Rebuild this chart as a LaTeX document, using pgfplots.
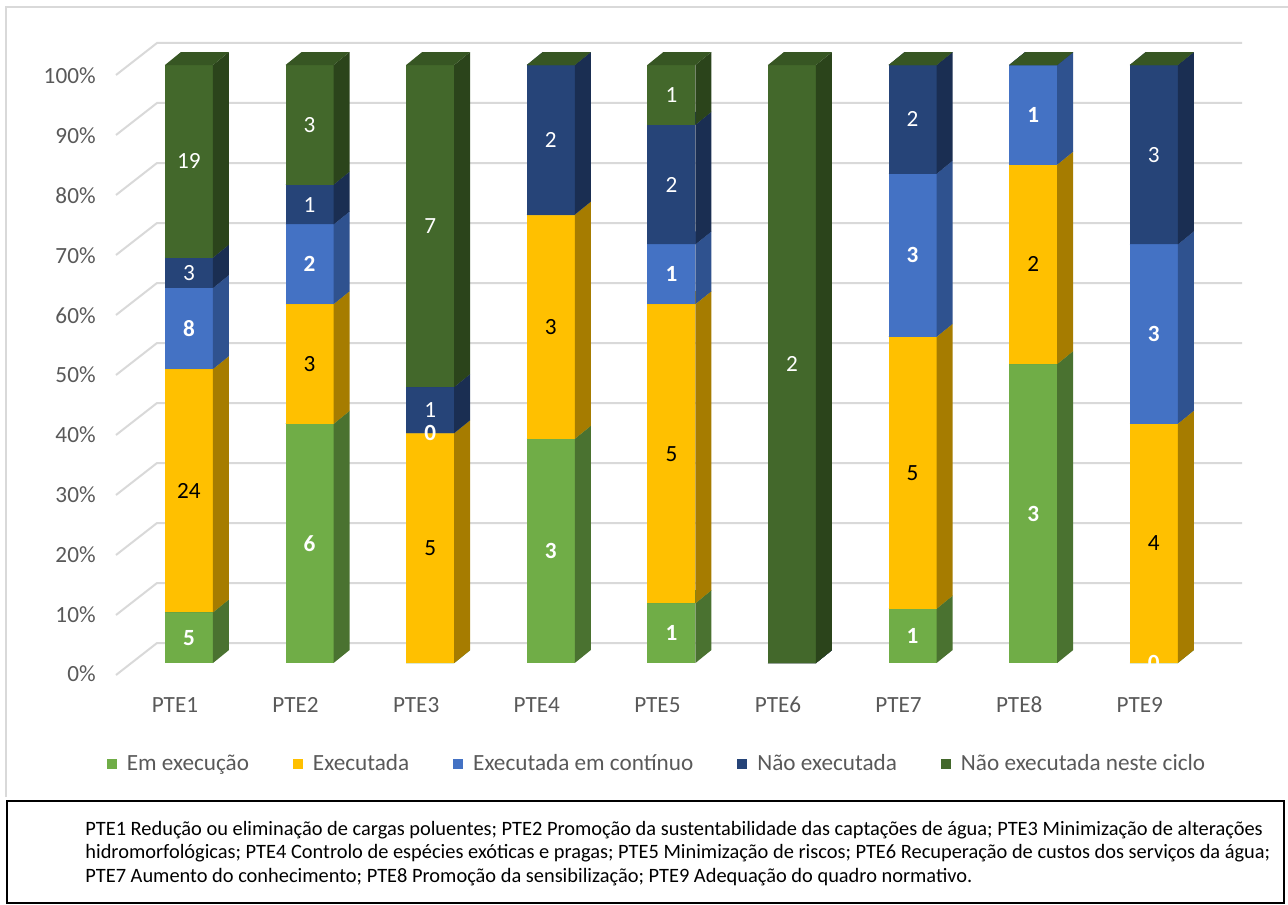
\documentclass[border=0pt]{standalone}
\usepackage{pgfplots}
\usepackage{pgfplotstable}
\pgfplotsset{compat=1.18}
\usepackage{fontspec}
\setmainfont{Carlito}

\definecolor{cEm}{HTML}{70AD47}\definecolor{sEm}{HTML}{4A7230}\definecolor{tEm}{HTML}{5E9239}
\definecolor{cEx}{HTML}{FFC000}\definecolor{sEx}{HTML}{A67C00}\definecolor{tEx}{HTML}{D9A300}
\definecolor{cCo}{HTML}{4472C4}\definecolor{sCo}{HTML}{2F528F}\definecolor{tCo}{HTML}{3A62A8}
\definecolor{cNe}{HTML}{264478}\definecolor{sNe}{HTML}{1A2E52}\definecolor{tNe}{HTML}{203A66}
\definecolor{cNc}{HTML}{43682B}\definecolor{sNc}{HTML}{2B441B}\definecolor{tNc}{HTML}{375623}
\definecolor{txt}{HTML}{595959}
\definecolor{gridc}{HTML}{D9D9D9}

% number of measures per PTE; "-" means no data label
\pgfplotstableread{
pte  em  ex  co  ne  nc
PTE1 5   24  8   3   19
PTE2 6   3   2   1   3
PTE3 -   5   0   1   7
PTE4 3   3   -   2   -
PTE5 1   5   1   2   1
PTE6 -   -   -   -   2
PTE7 1   5   3   2   -
PTE8 3   2   1   -   -
PTE9 0   4   3   3   -
}\counts

\def\dash{-}
\newcommand\getcount[2]{%
  \pgfplotstablegetelem{#1}{#2}\of\counts
  \edef\cstr{\pgfplotsretval}%
  \ifx\cstr\dash\def\cval{0}\def\cshow{0}\else\let\cval\cstr\def\cshow{1}\fi}
\newcommand\pickseries[1]{%
  \ifcase#1\or
    \def\col{em}\def\fc{cEm}\def\sc{sEm}\def\tc{tEm}\def\ls{lblb}\or
    \def\col{ex}\def\fc{cEx}\def\sc{sEx}\def\tc{tEx}\def\ls{lblk}\or
    \def\col{co}\def\fc{cCo}\def\sc{sCo}\def\tc{tCo}\def\ls{lblb}\or
    \def\col{ne}\def\fc{cNe}\def\sc{sNe}\def\tc{tNe}\def\ls{lblw}\or
    \def\col{nc}\def\fc{cNc}\def\sc{sNc}\def\tc{tNc}\def\ls{lblw}\fi}
\newcommand\gettotal[1]{%
  \def\tot{0}%
  \pgfplotsforeachungrouped \cc in {em,ex,co,ne,nc}{%
    \getcount{#1}{\cc}\pgfmathsetmacro\tot{\tot+\cval}}}

\def\hw{0.199}\def\dx{0.1327}\def\dy{2.17}
\newcommand\lblfont{\fontsize{11.6}{14}\selectfont}
\tikzset{
  lbl/.style={font=\lblfont, inner sep=0pt},
  lblb/.style={lbl, font=\lblfont\bfseries, text=white},
  lblk/.style={lbl, text=black},
  lblw/.style={lbl, text=white},
}

\begin{document}
\begin{tikzpicture}
\begin{scope}[x=0.5pt, y=-0.5pt]
  \useasboundingbox (0,0) rectangle (1288,904);
  \draw[gridc, line width=1pt] (6,797) -- (6,7) -- (1292,7);
  \foreach \p in {0,...,10}
    \draw[gridc, line width=1pt] (116,{675-60*\p}) -- (157,{643-60*\p}) -- (1242,{643-60*\p});
  \draw[black, line width=1.25pt] (7,801) rectangle (1284,903);
  \begin{scope}[every node/.style={anchor=base west, inner sep=0pt, font=\fontsize{10.2}{12}\selectfont}]
    \node at (85,835) {PTE1 Redução ou eliminação de cargas poluentes; PTE2 Promoção da sustentabilidade das captações de água; PTE3 Minimização de alterações};
    \node at (85,858.5) {hidromorfológicas; PTE4 Controlo de espécies exóticas e pragas; PTE5 Minimização de riscos; PTE6 Recuperação de custos dos serviços da água;};
    \node at (85,882) {PTE7 Aumento do conhecimento; PTE8 Promoção da sensibilização; PTE9 Adequação do quadro normativo.};
  \end{scope}
\end{scope}

\begin{axis}[
  at={(48pt,-331.5pt)}, anchor=south west,
  x=60.3pt, y=2.99pt,
  xmin=-0.771, xmax=8.75, ymin=0, ymax=105,
  axis line style={draw=none},
  major tick length=0pt,
  clip=false,
  xtick={0,...,8},
  xticklabels={PTE1,PTE2,PTE3,PTE4,PTE5,PTE6,PTE7,PTE8,PTE9},
  ytick={0,10,...,100},
  yticklabels={0\%,10\%,20\%,30\%,40\%,50\%,60\%,70\%,80\%,90\%,100\%},
  tick label style={font=\lblfont, text=txt},
  xticklabel style={anchor=center, yshift=-21pt, xshift=-7pt},
  yticklabel style={anchor=east, inner sep=0pt, yshift=-5.5pt},
  legend columns=5,
  legend style={at={(0.4877,-0.161)}, anchor=center, draw=none, fill=none,
    font=\lblfont, text=txt, inner sep=0pt, nodes={inner sep=0pt},
    /tikz/every odd column/.append style={column sep=5pt},
    /tikz/every even column/.append style={column sep=22pt}},
  legend image code/.code={\fill[#1] (0pt,-2.5pt) rectangle (5pt,2.5pt);},
]
\addlegendimage{fill=cEm, draw=none}\addlegendentry{Em execução}
\addlegendimage{fill=cEx, draw=none}\addlegendentry{Executada}
\addlegendimage{fill=cCo, draw=none}\addlegendentry{Executada em contínuo}
\addlegendimage{fill=cNe, draw=none}\addlegendentry{Não executada}
\addlegendimage{fill=cNc, draw=none}\addlegendentry{Não executada neste ciclo}

% bars: front, side and top faces of each stacked segment (percent of the PTE total)
\pgfplotsforeachungrouped \r in {0,...,8}{%
  \gettotal{\r}%
  \def\ybot{0}%
  \pgfplotsforeachungrouped \s in {1,...,5}{%
    \pickseries{\s}%
    \getcount{\r}{\col}%
    \pgfmathsetmacro\ytop{\ybot+100*\cval/\tot}%
    \pgfmathsetmacro\xl{\r-\hw}\pgfmathsetmacro\xr{\r+\hw}%
    \pgfmathsetmacro\xd{\r+\hw+\dx}\pgfmathsetmacro\xld{\r-\hw+\dx}%
    \pgfmathsetmacro\ybd{\ybot+\dy}\pgfmathsetmacro\ytd{\ytop+\dy}%
    \edef\cmd{%
      \noexpand\addplot[fill=\fc, draw=none, forget plot] coordinates {(\xl,\ybot) (\xr,\ybot) (\xr,\ytop) (\xl,\ytop)};
      \noexpand\addplot[fill=\sc, draw=none, forget plot] coordinates {(\xr,\ybot) (\xd,\ybd) (\xd,\ytd) (\xr,\ytop)};
      \noexpand\addplot[fill=\tc, draw=none, forget plot] coordinates {(\xl,\ytop) (\xld,\ytd) (\xd,\ytd) (\xr,\ytop)};
    }\cmd
    \let\ybot\ytop
  }%
}

% data labels, on top of every bar, clipped at the floor
\begin{scope}
\clip (axis cs:-1,0) rectangle (axis cs:9,110);
\pgfplotsforeachungrouped \r in {0,...,8}{%
  \gettotal{\r}%
  \def\ybot{0}%
  \pgfplotsforeachungrouped \s in {1,...,5}{%
    \pickseries{\s}%
    \getcount{\r}{\col}%
    \pgfmathsetmacro\ytop{\ybot+100*\cval/\tot}%
    \pgfmathsetmacro\ymid{(\ybot+\ytop)/2}%
    \ifnum\cshow=1
      \edef\cmd{\noexpand\node[\ls] at (axis cs:\r,\ymid) {\cval};}\cmd
    \fi
    \let\ybot\ytop
  }%
}
\end{scope}
\end{axis}
\end{tikzpicture}
\end{document}
